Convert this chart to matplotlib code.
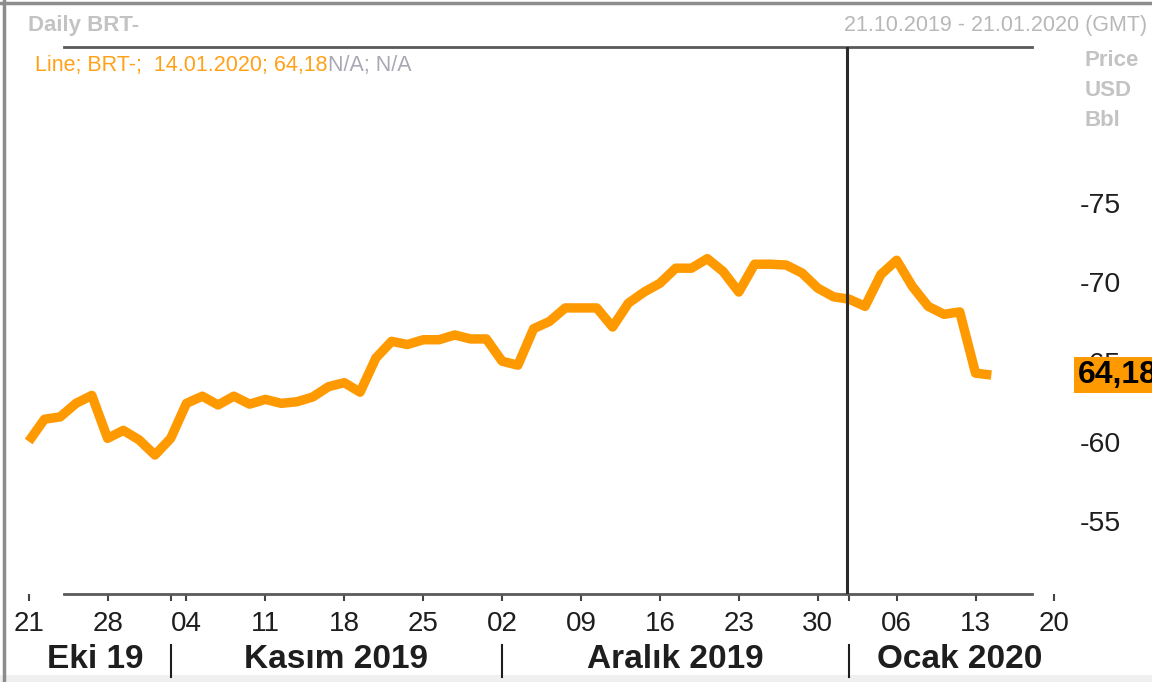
import numpy as np
import pandas as pd
import matplotlib
matplotlib.use("Agg")
import matplotlib.pyplot as plt
from matplotlib.lines import Line2D
from matplotlib.patches import Rectangle

# ---- data ----
dates = pd.bdate_range("2019-10-21", "2020-01-14")
prices = [60.0, 61.4, 61.55, 62.4, 62.9, 60.2, 60.7, 60.1, 59.15,
          60.2, 62.4, 62.85, 62.3, 62.85, 62.35, 62.65, 62.4, 62.5, 62.8,
          63.45, 63.7, 63.1, 65.25, 66.3, 66.1, 66.4, 66.4, 66.7, 66.45, 66.45,
          65.05, 64.8, 67.1, 67.55, 68.4, 68.4, 68.4, 67.2, 68.7, 69.4,
          69.95, 70.9, 70.9, 71.5, 70.7, 69.4, 71.15, 71.15, 71.1, 70.6,
          69.65, 69.1,
          68.95, 68.5, 70.5, 71.4, 69.75, 68.5, 68.0, 68.15, 64.3, 64.18]
axis_days = pd.bdate_range("2019-10-21", "2020-01-21")
y_ticks = [55, 60, 65, 70, 75]
months = ["Eki 19", "Kasım 2019", "Aralık 2019", "Ocak 2020"]
last_label = "64,18"
cursor_date = pd.Timestamp("2020-01-01")

ORANGE = "#ff9900"
GREY_TXT = "#c3c3c3"
DARK = "#1e1e1e"
W, H = 1152, 682

plt.rcParams["font.family"] = ["Liberation Sans", "DejaVu Sans"]

fig = plt.figure(figsize=(W / 100, H / 100), dpi=100)
fig.patch.set_facecolor("white")

ax = fig.add_axes([20 / W, 1 - 594 / H, (1071 - 20) / W, (594 - 47) / H])
x = np.arange(len(prices))
ax.plot(x, prices, color=ORANGE, lw=6.8, solid_joinstyle="round",
        solid_capstyle="butt", zorder=3)

ax.set_xlim(-0.55, len(axis_days) - 1 + 0.05)
ax.set_ylim(50.41, 84.81)

# spines: only partial top and bottom lines
for s in ["left", "right"]:
    ax.spines[s].set_visible(False)
for s in ["top", "bottom"]:
    ax.spines[s].set_color("#5a5a5a")
    ax.spines[s].set_linewidth(2)
    ax.spines[s].set_bounds(2.24, 63.58)

# x ticks on Mondays, minor ticks on month starts
mondays = [i for i, d in enumerate(axis_days) if d.weekday() == 0]
ax.set_xticks(mondays)
ax.set_xticklabels([axis_days[i].strftime("%d") for i in mondays])
month_starts = [i for i in range(1, len(axis_days))
                if axis_days[i].month != axis_days[i - 1].month]
ax.set_xticks(month_starts, minor=True)
ax.tick_params(axis="x", which="both", direction="out", length=5, width=1.5,
               color="#444444", labelsize=20, labelcolor=DARK, pad=7)
ax.tick_params(axis="x", which="minor", labelbottom=False)

# y ticks on the right, written as "-75"
ax.yaxis.tick_right()
ax.set_yticks(y_ticks)
ax.set_yticklabels(["-" + str(v) for v in y_ticks])
ax.tick_params(axis="y", length=0, labelsize=20.5, labelcolor=DARK, pad=6)

# cursor line
ci = list(axis_days).index(cursor_date)
ax.axvline(ci - 0.15, color="#2a2a2a", lw=2.2, zorder=4)

# last value box, partly cut by the right edge like the reference
ax.text(1.0 + 6.5 / (1071 - 20), prices[-1], last_label,
        transform=ax.get_yaxis_transform(),
        ha="left", va="center", fontsize=23, fontweight="bold", color="black",
        bbox=dict(boxstyle="square,pad=0.1", fc=ORANGE, ec="none"),
        zorder=6, clip_on=False)

# month row
bounds = [ax.get_xlim()[0]] + month_starts + [ax.get_xlim()[1]]
trans = ax.get_xaxis_transform()
ymonth = -(660 - 594) / (594 - 47)
for i, name in enumerate(months):
    ax.text((bounds[i] + bounds[i + 1]) / 2, ymonth, name, transform=trans,
            ha="center", va="center", fontsize=24, fontweight="bold",
            color=DARK, clip_on=False)
for m in month_starts:
    ax.add_line(Line2D([m, m], [-(645 - 594) / (594 - 47), -(677 - 594) / (594 - 47)],
                       transform=trans, color=DARK, lw=1.5, clip_on=False))

# header texts
fig.text(28 / W, 1 - 25 / H, "Daily BRT-", fontsize=16, fontweight="bold",
         color=GREY_TXT, ha="left", va="center")
fig.text(1147 / W, 1 - 25 / H, "21.10.2019 - 21.01.2020 (GMT)", fontsize=15.5,
         color="#b8b8b8", ha="right", va="center")
t1 = fig.text(35 / W, 1 - 66 / H, "Line; BRT-;  14.01.2020; 64,18", fontsize=15.5,
              color="#ffa21a", ha="left", va="center")
fig.canvas.draw()
bb = t1.get_window_extent()
fig.text(bb.x1 / W, 1 - 66 / H, "N/A; N/A", fontsize=15.5, color="#a9a9b4",
         ha="left", va="center")
for k, word in enumerate(["Price", "USD", "Bbl"]):
    fig.text(1085 / W, 1 - (60 + 30 * k) / H, word, fontsize=16,
             fontweight="bold", color=GREY_TXT, ha="left", va="center")

# outer frame pieces
fig.add_artist(Rectangle((0, 0), 1, 7 / H, transform=fig.transFigure,
                         fc="#f0f0f0", ec="none", zorder=0))
fig.add_artist(Line2D([4 / W, 4 / W], [0, 1], transform=fig.transFigure,
                      color="#8c8c8c", lw=2.5))
fig.add_artist(Line2D([0, 1], [1 - 3 / H, 1 - 3 / H], transform=fig.transFigure,
                      color="#8c8c8c", lw=2.5))

fig.savefig("out.png", dpi=100)
